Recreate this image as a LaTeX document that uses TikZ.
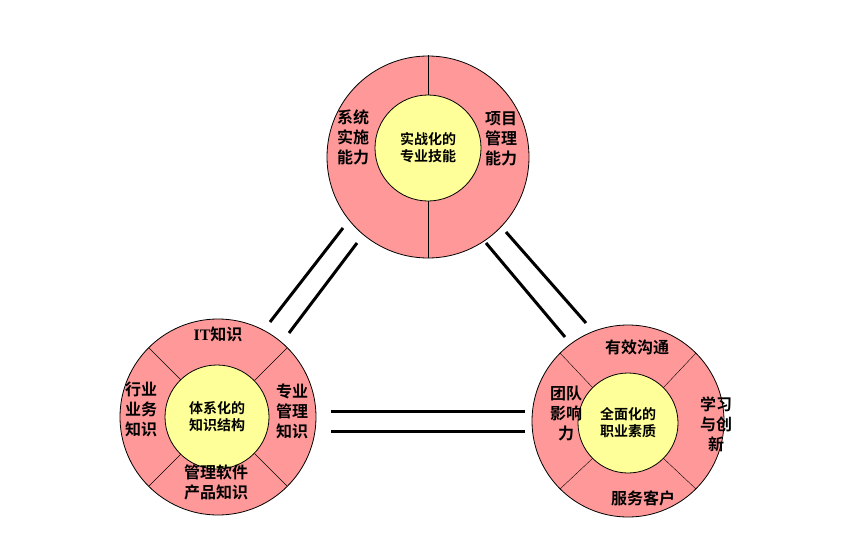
\documentclass[tikz,border=0pt]{standalone}
\usepackage{fontspec}
\newfontfamily\cjk{Noto Sans CJK SC}[BoldFont={Noto Sans CJK SC Bold}]
\usetikzlibrary{positioning}
\definecolor{ringpink}{RGB}{255,153,153}
\definecolor{coreyellow}{RGB}{255,255,153}
\tikzset{
  ring/.style={circle,draw=black,fill=ringpink,line width=0.8pt,minimum size=196pt,inner sep=0pt},
  core/.style={circle,draw=black,fill=coreyellow,line width=0.8pt,minimum size=104pt,inner sep=0pt,
    font=\cjk\bfseries\fontsize{14}{17}\selectfont,align=center},
  part/.style={font=\cjk\bfseries\fontsize{16}{20}\selectfont,align=center},
  link/.style={line width=3pt}
}
\begin{document}
\begin{tikzpicture}[x=1pt,y=1pt]
  \useasboundingbox[fill=white] (0,0) rectangle (862,-554);

  % three rings
  \node[ring,minimum size=202pt] (skill) at (428,-157) {};
  \node[ring] (know) at (218,-417) {};
  \node[ring,minimum size=192pt] (qual) at (628,-421) {};

  % dividers
  \draw (428,-55) -- (428,-96);
  \draw (428,-200) -- (428,-258);
  \foreach \a in {45,135,225,315} {
    \draw ([shift={(\a:52)}]218,-417) -- ([shift={(\a:98)}]218,-417);
    \draw ([shift={(\a:50)}]628,-423) -- ([shift={(\a:96)}]628,-421);
  }

  % cores
  \node[core,minimum size=106pt] (skillcore) at (428,-148) {实战化的\\专业技能};
  \node[core] (knowcore) at (217,-417) {体系化的\\知识结构};
  \node[core,minimum size=100pt] (qualcore) at (628,-423) {全面化的\\职业素质};

  % parts
  \node[part] (sys) at (353,-137) {系统\\实施\\能力};
  \node[part] (proj) at (501,-139) {项目\\管理\\能力};
  \node[part] (it) at (218,-334) {\fontspec{Liberation Serif}\bfseries IT\cjk\bfseries 知识};
  \node[part] (trade) at (141,-409) {行业\\业务\\知识};
  \node[part] (mgmt) at (292,-411) {专业\\管理\\知识};
  \node[part] (soft) at (216,-482) {管理软件\\产品知识};
  \node[part] (comm) at (637,-347) {有效沟通};
  \node[part] (team) at (566,-413) {团队\\影响\\力};
  \node[part] (learn) at (716,-424) {学习\\与创\\新};
  \node[part] (serve) at (643,-498) {服务客户};

  % double links
  \coordinate (l1a) at (270,-322); \coordinate (l1b) at (343,-228);
  \coordinate (l2a) at (289,-333); \coordinate (l2b) at (357,-243);
  \coordinate (r1a) at (506,-232); \coordinate (r1b) at (586,-323);
  \coordinate (r2a) at (486,-243); \coordinate (r2b) at (565,-337);
  \coordinate (h1a) at (331,-411); \coordinate (h1b) at (525,-411);
  \coordinate (h2a) at (331,-431); \coordinate (h2b) at (525,-431);
  \draw[link] (l1a) -- (l1b);
  \draw[link] (l2a) -- (l2b);
  \draw[link] (r1a) -- (r1b);
  \draw[link] (r2a) -- (r2b);
  \draw[link] (h1a) -- (h1b);
  \draw[link] (h2a) -- (h2b);
\end{tikzpicture}
\end{document}
